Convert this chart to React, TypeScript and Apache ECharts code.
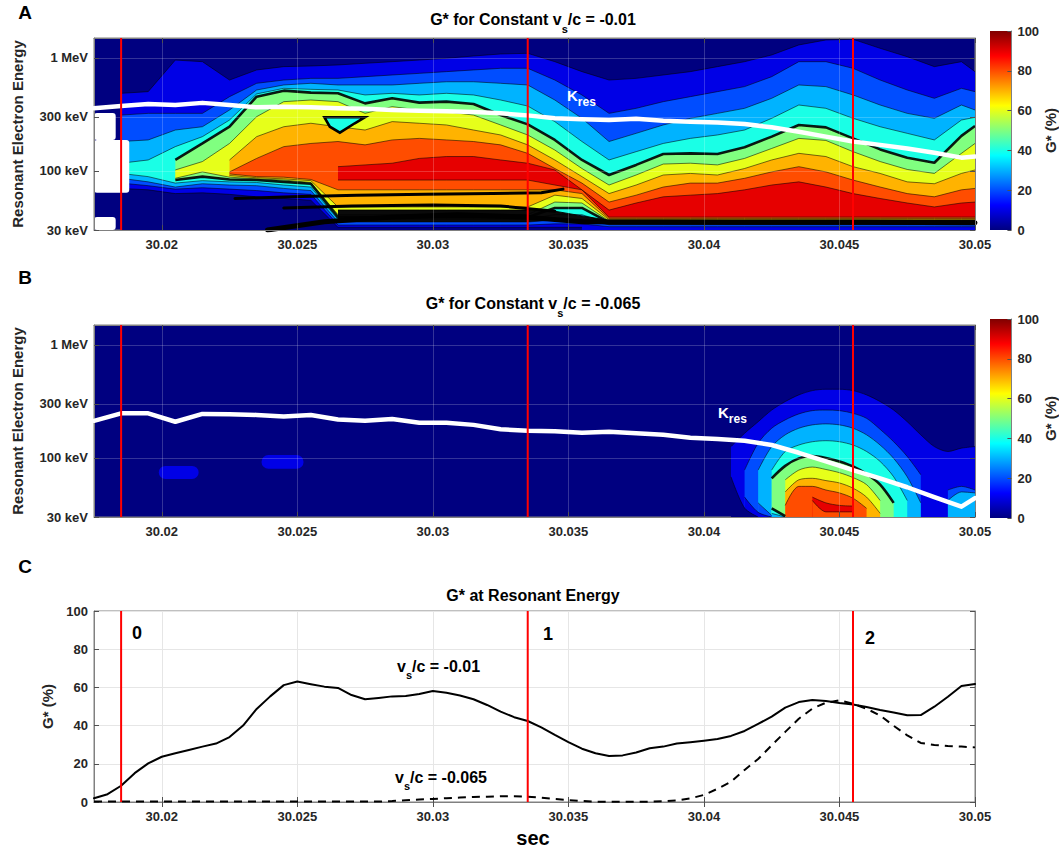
import React, { useEffect, useRef } from 'react';
import * as echarts from 'echarts';

const FONT = '"Liberation Sans", Arial, Helvetica, sans-serif';
const TXT = '#262626';
const NAVY = '#000080';
// jet colours of the 10 contour bands (0-10, 10-20, ... 90-100 %)
const BAND = ['#000080', '#0000E6', '#004DFF', '#00B3FF', '#1AFFE6', '#80FF80', '#E6FF1A', '#FFB300', '#FF4D00', '#E60000'];

const T_MIN = 30.0175;
const T_MAX = 30.05;
const X_TICKS = [30.02, 30.025, 30.03, 30.035, 30.04, 30.045, 30.05];
const E_MIN = 30;
const E_MAX = 1500;
const E_TICKS = [30, 100, 300, 1000];
const E_TICK_LABELS = ['30 keV', '100 keV', '300 keV', '1 MeV'];
const RED_T = [30.0185, 30.0335, 30.0455];

// ---------- Panel A : contour boundaries (keV) along time ----------
const T_A = [30.0175, 30.0185, 30.0195, 30.0205, 30.0215, 30.0225, 30.0235, 30.0245, 30.0255, 30.0265, 30.0275, 30.0285, 30.0295, 30.0305, 30.0315, 30.0325, 30.0335, 30.0345, 30.0355, 30.0365, 30.0375, 30.0385, 30.0395, 30.0405, 30.0415, 30.0425, 30.0435, 30.0445, 30.0455, 30.0465, 30.0475, 30.0485, 30.0495, 30.05];
// upper edges: G* >= level below the curve
const A_L10 = [null, 486, 503, 957, 926, 637, 782, 837, 848, 866, 896, 926, 957, 992, 1040, 1083, 1098, 926, 756, 637, 659, 706, 756, 837, 926, 1062, 1302, 1441, 1461, 1216, 1025, 837, 926, 756];
const A_L20 = [null, 312, 323, 323, 323, 454, 596, 637, 659, 659, 682, 706, 730, 756, 782, 809, 809, 637, 470, 323, 358, 410, 454, 503, 557, 682, 926, 926, 809, 637, 520, 439, 538, 503];
const A_L30 = [null, 182, 188, 230, 246, 346, 520, 576, 596, 576, 576, 576, 596, 615, 615, 596, 576, 424, 292, 182, 215, 255, 292, 323, 358, 439, 576, 557, 470, 383, 323, 292, 383, 346];
const A_L40 = [null, 117, 125, 164, 201, 282, 480, 538, 527, 520, 470, 486, 470, 486, 470, 424, 375, 273, 182, 125, 148, 175, 194, 208, 230, 292, 383, 358, 292, 246, 215, 188, 282, 298];
const A_L50 = [null, null, null, 125, 175, 246, 454, 513, 493, 486, 396, 439, 402, 410, 391, 312, 258, 188, 125, 92, 113, 141, 143, 141, 162, 201, 255, 243, 194, 155, 131, 118, 204, 250];
const A_L60 = [null, null, null, 102, 121, 175, 302, 410, 424, 410, 323, 370, 346, 334, 312, 255, 208, 153, 105, 75, 92, 115, 117, 113, 129, 158, 194, 186, 148, 121, 103, 95, 143, 175];
const A_L70 = [null, null, null, null, null, 125, 201, 246, 264, 246, 230, 273, 264, 255, 230, 208, 170, 125, 89, 63, 75, 92, 95, 92, 105, 125, 143, 134, 109, 95, 80, 77, 95, 102];
const A_L80 = [null, null, null, null, null, 98, 129, 164, 175, 182, 170, 188, 194, 188, 182, 170, 143, 105, 78, 53, 61, 72, 78, 78, 86, 98, 109, 98, 83, 72, 63, 59, 68, 70];
const A_L90 = [null, null, null, null, null, null, null, null, null, 109, 113, 117, 129, 134, 134, 125, 117, 102, 68, 45, 52, 59, 61, 63, 68, 75, 80, 72, 63, 57, 52, 48, 52, 53];
// lower edges: G* < level below the curve
const A_B90 = [null, null, null, null, null, null, null, null, null, 83, 83, 83, 83, 83, 83, 83, 83, 75, 68, 39, 39, 39, 39, 39, 39, 39, 39, 39, 39, 39, 39, 39, 39, 39];
const A_B80 = [null, null, null, null, null, 94, 89, 88, 84, 68, 68, 68, 68, 68, 68, 68, 68, 68, 63, 38, 38, 38, 38, 38, 38, 38, 38, 38, 38, 38, 38, 38, 38, 38];
const A_B70 = [null, null, null, null, null, 91, 87, 85, 82, 48, 48, 48, 48, 48, 48, 48, 48, 61, 57, 37, 37, 37, 37, 37, 37, 37, 37, 37, 37, 37, 37, 37, 37, 37];
const A_B60 = [null, null, null, 86, 98, 88, 85, 83, 79, 41, 41, 41, 41, 41, 41, 41, 41, 53, 52, 36, 36, 36, 36, 36, 36, 36, 36, 36, 36, 36, 36, 36, 36, 36];
const A_B50 = [null, null, null, 83, 89, 84, 83, 80, 77, 39, 39, 39, 39, 39, 39, 39, 39, 47, 47, 35.1, 35.1, 35.1, 35.1, 35.1, 35.1, 35.1, 35.1, 35.1, 35.1, 35.1, 35.1, 35.1, 35.1, 35.1];
const A_B40 = [null, 95, 89, 78, 82, 80, 79, 75, 72, 37.3, 37.3, 37.3, 37.3, 37.3, 37.3, 37.3, 37.3, 41, 41, 34.4, 34.4, 34.4, 34.4, 34.4, 34.4, 34.4, 34.4, 34.4, 34.4, 34.4, 34.4, 34.4, 34.4, 34.4];
// band of crowded (black) contour lines near the bottom
const A_DARK = [null, null, null, null, null, null, null, null, null, 45, 45, 45, 45, 45, 45, 45, 45, 44, 40, 36.5, 36.5, 36.5, 36.5, 36.5, 36.5, 36.5, 36.5, 36.5, 36.5, 36.5, 36.5, 36.5, 36.5, 36.5];
const A_B30 = [null, 86, 80, 72, 77, 75, 74, 70, 67, 35.3, 35.3, 35.3, 35.3, 35.3, 35.3, 35.3, 35.3, 36.8, 36.8, 33.4, 33.4, 33.4, 33.4, 33.4, 33.4, 33.4, 33.4, 33.4, 33.4, 33.4, 33.4, 33.4, 33.4, 33.4];
const A_B20 = [null, 78, 74, 69, 71, 69, 67, 64, 62, 33.2, 33.2, 33.2, 33.2, 33.2, 33.2, 33.2, 33.2, 34, 34, 32.1, 32.1, 32.1, 32.1, 32.1, 32.1, 32.1, 32.1, 32.1, 32.1, 32.1, 32.1, 32.1, 32.1, 32.1];
const A_B10 = [null, 70, 68, 63, 64, 62, 59, 57, 55, 31.7, 31.7, 31.7, 31.7, 31.7, 31.7, 31.7, 31.7, 31.7, 31.7, null, null, null, null, null, null, null, null, null, null, null, null, null, null, null];
// single crowded contour lines at the bottom of panel A
const A_BLK1_T = [30.0227, 30.0248, 30.0272, 30.0297, 30.0322, 30.034, 30.0348];
const A_BLK1_E = [57, 59, 61, 62, 63, 64, 69];
const A_BLK2_T = [30.0239, 30.026, 30.0285, 30.0309, 30.0334, 30.0355, 30.041, 30.0459, 30.05];
const A_BLK2_E = [30, 35.5, 39, 41, 39, 35.5, 35.1, 35.1, 34.8];
const A_BLK3_T = [30.0245, 30.027, 30.03, 30.0325, 30.0345];
const A_BLK3_E = [47, 49, 50, 49, 44];
// island of lower G* inside the 50 % contour
const A_ISL_T = [30.026, 30.02749, 30.02712, 30.02657, 30.0262];
const A_ISL_E = [298, 298, 264, 218, 246];
// missing data (white): [t1, t2, Elow, Ehigh]
const A_GAPS = [[30.0175, 30.0183, 188, 325], [30.0175, 30.0188, 64, 188], [30.0175, 30.0183, 30, 39]];
// resonant energy curve
const KRES_A = [358, 375, 390, 383, 400, 383, 365, 370, 365, 358, 355, 346, 341, 337, 332, 323, 310, 292, 287, 282, 290, 278, 272, 268, 260, 243, 222, 201, 182, 170, 158, 145, 131, 134];

// ---------- Panel B ----------
const T_H = [30.0405, 30.041, 30.0415, 30.042, 30.0425, 30.043, 30.0435, 30.044, 30.0445, 30.045, 30.0455, 30.046, 30.0465, 30.047, 30.0475, 30.048, 30.0485, 30.049, 30.0495, 30.05];
const B_L10 = [null, 126, 165, 209, 265, 315, 361, 394, 405, 405, 394, 361, 315, 265, 209, 160, 126, 114, 122, 126];
const B_L20 = [null, null, 78, 135, 183, 217, 245, 262, 265, 262, 248, 224, 179, 139, 103, 71, null, 52, 56, 52];
const B_L30 = [null, null, null, 78, 126, 160, 183, 196, 200, 196, 183, 160, 130, 99, 68, 40, null, 42, 50, 49];
const B_L40 = [null, null, null, null, 78, 114, 130, 139, 142, 139, 130, 114, 93, 68, 42, null, null, null, null, null];
const B_L50 = [null, null, null, null, 66, 85, 99, 104, 100, 93, 84, 72, 58, 40, null, null, null, null, null, null];
const B_L60 = [null, null, null, null, null, 64, 78, 83, 79, 74, 67, 58, 42, null, null, null, null, null, null, null];
const B_L70 = [null, null, null, null, null, 50, 64, 66, 63, 60, 54, 45, 32.3, null, null, null, null, null, null, null];
const B_L80 = [null, null, null, null, null, 38, 56, 56, 52, 49, 44, 35.8, null, null, null, null, null, null, null, null];
const B_L90 = [null, null, null, null, null, null, null, 45, 40, 38, 37.5, null, null, null, null, null, null, null, null, null];
const B_B90 = [null, null, null, null, null, null, null, 42, 33.3, 33.3, 33.3, null, null, null, null, null, null, null, null, null];
const B_B50 = [null, null, null, null, 35.8, 30.5, null, null, null, null, null, null, null, null, null, null, null, null, null, null];
const B_B40 = [null, null, null, null, 32.3, 30, null, null, null, null, null, null, null, null, null, null, null, null, null, null];
const B_B30 = [null, null, null, 40, 31, null, null, null, null, null, null, null, null, null, null, null, null, null, null, null];
const B_B20 = [null, null, 45, 33, 30, null, null, null, null, null, null, null, null, null, null, null, null, null, null, null];
const B_B10 = [null, 68, 36, 30, null, null, null, null, null, null, null, null, null, null, null, null, null, null, null, null];
const B_BLOBS = [[30.01989, 30.02136, 65, 85], [30.02368, 30.02523, 80, 106]];
const KRES_B = [213, 248, 248, 209, 245, 244, 240, 232, 240, 219, 213, 221, 205, 205, 196, 179, 174, 172, 167, 170, 165, 160, 151, 147, 142, 130, 111, 93, 78, 66, 55, 45, 37, 44];

// ---------- Panel C ----------
const T_C = [30.0175, 30.018, 30.0185, 30.019, 30.0195, 30.02, 30.0205, 30.021, 30.0215, 30.022, 30.0225, 30.023, 30.0235, 30.024, 30.0245, 30.025, 30.0255, 30.026, 30.0265, 30.027, 30.0275, 30.028, 30.0285, 30.029, 30.0295, 30.03, 30.0305, 30.031, 30.0315, 30.032, 30.0325, 30.033, 30.0335, 30.034, 30.0345, 30.035, 30.0355, 30.036, 30.0365, 30.037, 30.0375, 30.038, 30.0385, 30.039, 30.0395, 30.04, 30.0405, 30.041, 30.0415, 30.042, 30.0425, 30.043, 30.0435, 30.044, 30.0445, 30.045, 30.0455, 30.046, 30.0465, 30.047, 30.0475, 30.048, 30.0485, 30.049, 30.0495, 30.05];
const G_SOLID = [2.0, 4.1, 8.5, 15.1, 20.2, 23.7, 25.5, 27.2, 29.0, 30.6, 34.0, 40.0, 48.7, 55.3, 61.2, 63.1, 61.7, 60.4, 59.7, 56.0, 53.8, 54.5, 55.3, 55.5, 56.5, 58.1, 57.2, 55.8, 53.8, 50.8, 47.3, 44.4, 42.4, 39.1, 35.1, 31.4, 27.9, 25.5, 24.1, 24.4, 25.9, 28.1, 29.0, 30.6, 31.3, 32.1, 33.0, 34.6, 37.2, 40.9, 44.7, 49.4, 52.3, 53.4, 52.9, 51.8, 51.1, 49.7, 48.2, 46.9, 45.4, 45.5, 49.9, 55.1, 60.7, 61.8];
const G_DASH = [0.2, 0.2, 0.2, 0.2, 0.2, 0.2, 0.2, 0.2, 0.2, 0.2, 0.2, 0.2, 0.2, 0.2, 0.2, 0.2, 0.2, 0.2, 0.2, 0.2, 0.2, 0.2, 0.5, 0.9, 1.3, 1.6, 2.0, 2.3, 2.6, 2.8, 3.0, 3.0, 2.8, 2.2, 1.6, 1.0, 0.5, 0.2, 0.1, 0.1, 0.1, 0.2, 0.4, 0.8, 1.9, 3.7, 6.9, 10.6, 16.8, 22.5, 29.7, 36.7, 43.6, 48.9, 52.0, 53.2, 51.4, 48.8, 45.3, 39.9, 34.9, 30.9, 29.9, 29.3, 29.0, 28.6];

const pairs = (ts: number[], vs: (number | null)[]) => ts.map((t, i) => [t, vs[i] == null ? '-' : vs[i]]);
const fmtT = (v: number) => String(parseFloat(Number(v).toFixed(4)));
const fmtE = (v: number) => {
  let best = 0;
  E_TICKS.forEach((e, i) => {
    if (Math.abs(Math.log(v / e)) < Math.abs(Math.log(v / E_TICKS[best]))) best = i;
  });
  return E_TICK_LABELS[best];
};

function area(ts: number[], vs: (number | null)[], color: string, lw: number, ax: number, smooth: number | boolean) {
  return {
    type: 'line', xAxisIndex: ax, yAxisIndex: ax, data: pairs(ts, vs), symbol: 'none', showSymbol: false,
    smooth, connectNulls: false, clip: true, silent: true, z: 1,
    lineStyle: { color: '#000', width: lw, opacity: 0.9 },
    areaStyle: { color, opacity: 1, origin: 'start' },
  };
}

function rects(data: number[][], color: string, ax: number, r: number) {
  return {
    type: 'custom', xAxisIndex: ax, yAxisIndex: ax, data, silent: true, z: 2, clip: true,
    encode: { x: [0, 1], y: [2, 3] },
    renderItem: (_p: any, api: any) => {
      const p1 = api.coord([api.value(0), api.value(3)]);
      const p2 = api.coord([api.value(1), api.value(2)]);
      return { type: 'rect', shape: { x: p1[0], y: p1[1], width: p2[0] - p1[0], height: p2[1] - p1[1], r }, style: { fill: color } };
    },
  };
}

function plainLine(ts: number[], vs: number[], color: string, width: number, ax: number, z: number, extra: any = {}) {
  return {
    type: 'line', xAxisIndex: ax, yAxisIndex: ax, data: pairs(ts, vs), symbol: 'none', showSymbol: false,
    silent: true, z, clip: true, lineStyle: { color, width, cap: 'round', join: 'round' }, ...extra,
  };
}

// vertical red marker lines, drawn through the axes' own scales
function redLines(ax: number, lo: number, hi: number) {
  return RED_T.map((t) => ({
    type: 'line', xAxisIndex: ax, yAxisIndex: ax, data: [[t, lo], [t, hi]], symbol: 'none', showSymbol: false,
    silent: true, z: 6, clip: true, lineStyle: { color: '#FF0000', width: 2 },
  }));
}

const tickLabel = { fontSize: 13, fontWeight: 'bold', color: TXT, fontFamily: FONT };

function contourAxes(grid: number, nameY: string) {
  const xs = [
    {
      gridIndex: grid, type: 'value', min: T_MIN, max: T_MAX, position: 'bottom', z: 3,
      axisLine: { show: true, lineStyle: { color: '#808080' } },
      axisTick: { show: true, inside: true, length: 5, customValues: X_TICKS, lineStyle: { color: '#505050' } },
      axisLabel: { ...tickLabel, margin: 8, customValues: X_TICKS, formatter: fmtT },
      splitLine: { show: true, lineStyle: { color: 'rgba(255,255,255,0.2)', width: 1 } },
    },
    {
      gridIndex: grid, type: 'value', min: T_MIN, max: T_MAX, position: 'top', z: 3,
      axisLine: { show: true, lineStyle: { color: '#808080' } },
      axisTick: { show: true, inside: true, length: 5, customValues: X_TICKS, lineStyle: { color: '#505050' } },
      axisLabel: { show: false }, splitLine: { show: false },
    },
  ];
  const ys = [
    {
      gridIndex: grid, type: 'log', logBase: 10, min: E_MIN, max: E_MAX, position: 'left', z: 3,
      axisLine: { show: true, lineStyle: { color: '#808080' } },
      axisTick: { show: true, inside: true, length: 5, customValues: E_TICKS, lineStyle: { color: '#505050' } },
      axisLabel: { ...tickLabel, margin: 6, customValues: E_TICKS, formatter: fmtE },
      splitLine: { show: true, lineStyle: { color: 'rgba(255,255,255,0.2)', width: 1 } },
      minorTick: { show: false }, minorSplitLine: { show: false },
      name: nameY, nameLocation: 'middle', nameGap: 69, nameRotate: 90,
      nameTextStyle: { fontSize: 15, fontWeight: 'bold', color: TXT, fontFamily: FONT },
    },
    {
      gridIndex: grid, type: 'log', logBase: 10, min: E_MIN, max: E_MAX, position: 'right', z: 3,
      axisLine: { show: true, lineStyle: { color: '#808080' } },
      axisTick: { show: true, inside: true, length: 5, customValues: E_TICKS, lineStyle: { color: '#505050' } },
      axisLabel: { show: false, customValues: E_TICKS }, splitLine: { show: false },
    },
  ];
  return { xs, ys };
}

function subText(x: number, y: number, parts: [string, boolean][], size: number, sub: number, lh: number, color: string, align: string) {
  const rich = {
    m: { fontSize: size, fontWeight: 'bold', fontFamily: FONT, fill: color, color, lineHeight: lh },
    s: { fontSize: sub, fontWeight: 'bold', fontFamily: FONT, fill: color, color, lineHeight: sub, verticalAlign: 'bottom' },
  };
  return {
    type: 'text', x, y, z: 100, silent: true,
    style: {
      text: parts.map(([t, isSub]) => `{${isSub ? 's' : 'm'}|${t}}`).join(''),
      rich, align, verticalAlign: 'middle', textAlign: align, textVerticalAlign: 'middle',
    },
  };
}

function plainText(x: number, y: number, text: string, size: number, align = 'center') {
  return {
    type: 'text', x, y, z: 100, silent: true,
    style: { text, fontSize: size, fontWeight: 'bold', fontFamily: FONT, fill: '#000', align, verticalAlign: 'middle', textAlign: align, textVerticalAlign: 'middle' },
  };
}

function buildOption() {
  const a = contourAxes(0, 'Resonant Electron Energy');
  const b = contourAxes(1, 'Resonant Electron Energy');
  const jet = new echarts.graphic.LinearGradient(0, 1, 0, 0, [
    { offset: 0, color: '#000080' }, { offset: 0.125, color: '#0000FF' }, { offset: 0.375, color: '#00FFFF' },
    { offset: 0.625, color: '#FFFF00' }, { offset: 0.875, color: '#FF0000' }, { offset: 1, color: '#800000' },
  ]);
  const cbY = (grid: number) => ({
    gridIndex: grid, type: 'value', min: 0, max: 100, interval: 20, position: 'right', z: 3,
    axisLine: { show: true, lineStyle: { color: '#808080' } },
    axisTick: { show: true, inside: true, length: 4, lineStyle: { color: '#505050' } },
    axisLabel: { ...tickLabel, margin: 6 }, splitLine: { show: false },
    name: 'G* (%)', nameLocation: 'middle', nameGap: 31, nameRotate: 90,
    nameTextStyle: { fontSize: 15, fontWeight: 'bold', color: TXT, fontFamily: FONT },
  });
  const cbX = (grid: number) => ({ gridIndex: grid, type: 'category', data: ['G'], show: false, boundaryGap: true });

  const xAxis = [
    ...a.xs, ...b.xs,
    {
      gridIndex: 2, type: 'value', min: T_MIN, max: T_MAX, position: 'bottom', z: 3,
      axisLine: { show: true, lineStyle: { color: '#808080' } },
      axisTick: { show: true, inside: true, length: 5, customValues: X_TICKS, lineStyle: { color: '#505050' } },
      axisLabel: { ...tickLabel, margin: 8, customValues: X_TICKS, formatter: fmtT },
      splitLine: { show: true, lineStyle: { color: '#e6e6e6', width: 1 } },
    },
    {
      gridIndex: 2, type: 'value', min: T_MIN, max: T_MAX, position: 'top', z: 3,
      axisLine: { show: true, lineStyle: { color: '#808080' } },
      axisTick: { show: true, inside: true, length: 5, customValues: X_TICKS, lineStyle: { color: '#505050' } },
      axisLabel: { show: false }, splitLine: { show: false },
    },
    cbX(3), cbX(4),
  ];
  const yAxis = [
    ...a.ys, ...b.ys,
    {
      gridIndex: 2, type: 'value', min: 0, max: 100, interval: 20, position: 'left', z: 3,
      axisLine: { show: true, lineStyle: { color: '#808080' } },
      axisTick: { show: true, inside: true, length: 5, lineStyle: { color: '#505050' } },
      axisLabel: { ...tickLabel, margin: 6 },
      splitLine: { show: true, lineStyle: { color: '#e6e6e6', width: 1 } },
      name: 'G* (%)', nameLocation: 'middle', nameGap: 32, nameRotate: 90,
      nameTextStyle: { fontSize: 15, fontWeight: 'bold', color: TXT, fontFamily: FONT },
    },
    {
      gridIndex: 2, type: 'value', min: 0, max: 100, interval: 20, position: 'right', z: 3,
      axisLine: { show: true, lineStyle: { color: '#808080' } },
      axisTick: { show: true, inside: true, length: 5, lineStyle: { color: '#505050' } },
      axisLabel: { show: false }, splitLine: { show: false },
    },
    cbY(3), cbY(4),
  ];

  // panel A series (axis index 0)
  const aUpper = [A_L10, A_L20, A_L30, A_L40, A_L50, A_L60, A_L70, A_L80, A_L90];
  const seriesA: any[] = [];
  aUpper.forEach((vs, i) => seriesA.push(area(T_A, vs, BAND[i + 1], i === 4 ? 2.6 : 0.6, 0, false)));
  const aLower: [(number | null)[], string, number][] = [
    [A_B90, BAND[8], 0.6], [A_B80, BAND[7], 0.6], [A_B70, BAND[6], 0.6], [A_B60, BAND[5], 0.6],
    [A_B50, BAND[4], 2.6], [A_B40, BAND[3], 0.6], [A_DARK, '#0a0a0a', 1], [A_B30, BAND[2], 0.6],
    [A_B20, BAND[1], 0.6], [A_B10, BAND[0], 0.6],
  ];
  aLower.forEach(([vs, c, lw]) => seriesA.push(area(T_A, vs, c, lw, 0, false)));
  seriesA.push(plainLine(A_BLK1_T, A_BLK1_E, '#000', 3, 0, 2));
  seriesA.push(plainLine(A_BLK3_T, A_BLK3_E, '#000', 3, 0, 2));
  seriesA.push(plainLine(A_BLK2_T, A_BLK2_E, '#000', 5, 0, 2));
  seriesA.push({
    type: 'custom', xAxisIndex: 0, yAxisIndex: 0, silent: true, z: 2, clip: true,
    data: A_ISL_T.map((t, i) => [t, A_ISL_E[i]]), encode: { x: 0, y: 1 },
    renderItem: (p: any, api: any) => (p.dataIndex === 0 ? {
      type: 'polygon',
      shape: { points: A_ISL_T.map((t, i) => api.coord([t, A_ISL_E[i]])) },
      style: { fill: BAND[4], stroke: '#000', lineWidth: 2.6 },
    } : null),
  });
  seriesA.push(rects(A_GAPS, '#FFFFFF', 0, 3));
  seriesA.push(plainLine(T_A, KRES_A, '#FFFFFF', 4.5, 0, 4));
  seriesA.push(...redLines(0, E_MIN, E_MAX));

  // panel B series (axis index 2)
  const bUpper = [B_L10, B_L20, B_L30, B_L40, B_L50, B_L60, B_L70, B_L80, B_L90];
  const seriesB: any[] = [];
  bUpper.forEach((vs, i) => seriesB.push(area(T_H, vs, BAND[i + 1], i === 4 ? 2.6 : 0.6, 2, 0.3)));
  const bLower: [(number | null)[], number][] = [[B_B90, 8], [B_B50, 4], [B_B40, 3], [B_B30, 2], [B_B20, 1], [B_B10, 0]];
  bLower.forEach(([vs, c]) => seriesB.push(area(T_H, vs, BAND[c], c === 4 ? 2.6 : 0.6, 2, 0.3)));
  seriesB.push(rects(B_BLOBS, BAND[1], 2, 8));
  seriesB.push(plainLine(T_A, KRES_B, '#FFFFFF', 4.5, 2, 4));
  seriesB.push(...redLines(2, E_MIN, E_MAX));

  // panel C (axis index 4)
  const seriesC = [
    plainLine(T_C, G_SOLID, '#000', 2, 4, 3),
    plainLine(T_C, G_DASH, '#000', 2, 4, 3, { lineStyle: { color: '#000', width: 2, type: [8, 6] } }),
    ...redLines(4, 0, 100),
  ];

  // colour bars
  const seriesCB = [3, 4].map((g, i) => ({
    type: 'bar', xAxisIndex: 6 + i, yAxisIndex: 6 + i, data: [100], barWidth: '100%', silent: true,
    itemStyle: { color: jet },
  }));

  return {
    animation: false,
    textStyle: { fontFamily: FONT },
    grid: [
      { left: 94, top: 38, width: 881, height: 192, show: true, backgroundColor: NAVY, borderColor: '#808080', borderWidth: 1 },
      { left: 94, top: 325, width: 881, height: 192, show: true, backgroundColor: NAVY, borderColor: '#808080', borderWidth: 1 },
      { left: 94, top: 611, width: 881, height: 191, show: true, backgroundColor: '#FFFFFF', borderColor: '#808080', borderWidth: 1 },
      { left: 990, top: 31, width: 22, height: 199 },
      { left: 990, top: 319, width: 22, height: 199 },
    ],
    xAxis,
    yAxis,
    series: [...seriesA, ...seriesB, ...seriesC, ...seriesCB],
    graphic: [
      plainText(25, 12, 'A', 19),
      plainText(25, 277, 'B', 19),
      plainText(25, 566, 'C', 19),
      subText(533, 19, [['G* for Constant v', false], ['s', true], ['/c = -0.01', false]], 16, 11, 30, '#000', 'center'),
      subText(533, 303, [['G* for Constant v', false], ['s', true], ['/c = -0.065', false]], 16, 11, 30, '#000', 'center'),
      plainText(533, 595, 'G* at Resonant Energy', 16),
      subText(567, 95, [['K', false], ['res', true]], 15, 12, 26, '#FFFFFF', 'left'),
      subText(718, 412, [['K', false], ['res', true]], 15, 12, 26, '#FFFFFF', 'left'),
      plainText(137, 633, '0', 18),
      plainText(548, 634, '1', 18),
      plainText(870, 638, '2', 18),
      subText(397, 666, [['v', false], ['s', true], ['/c = -0.01', false]], 16, 11, 28, '#000', 'left'),
      subText(395, 777, [['v', false], ['s', true], ['/c = -0.065', false]], 16, 11, 28, '#000', 'left'),
      plainText(533, 838, 'sec', 20),
    ],
  };
}

export default function App() {
  const ref = useRef<HTMLDivElement>(null);
  useEffect(() => {
    document.body.style.margin = '0';
    document.body.style.background = '#FFFFFF';
    if (!ref.current) return;
    const chart = echarts.init(ref.current, undefined, { renderer: 'svg' });
    chart.setOption(buildOption() as any);
    return () => chart.dispose();
  }, []);
  return <div ref={ref} style={{ width: 1059, height: 851, background: '#FFFFFF' }} />;
}
